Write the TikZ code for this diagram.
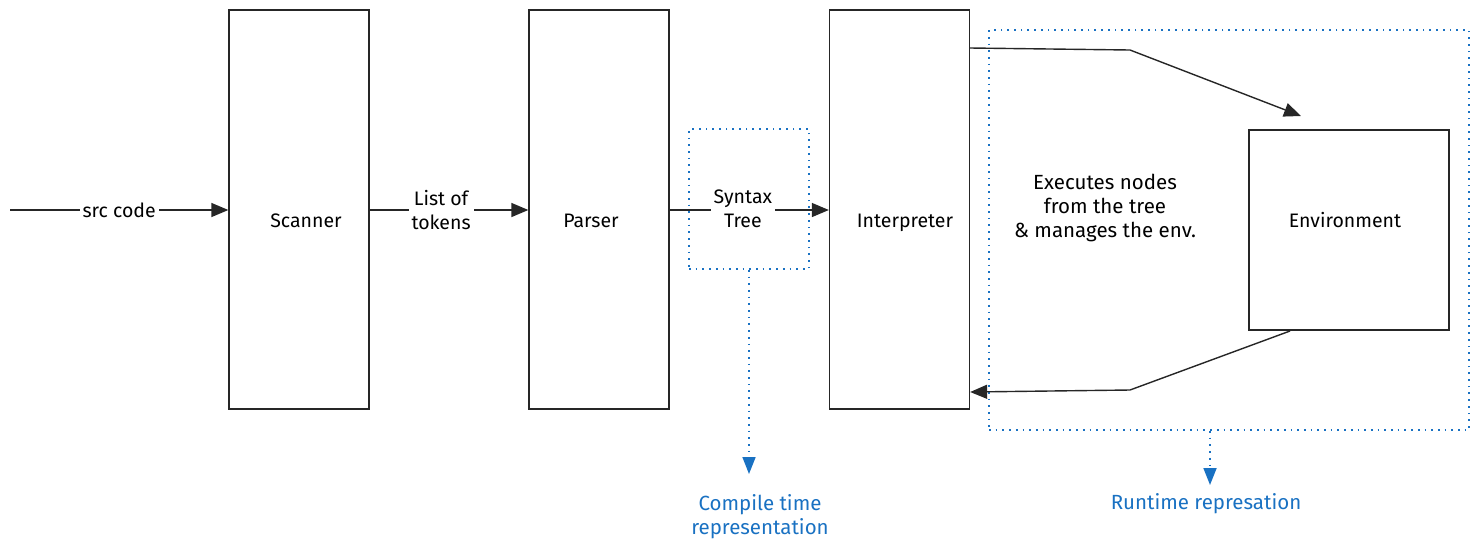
\documentclass[tikz,border=0pt]{standalone}
\usepackage{fontspec}
\setmainfont{Fira Sans}
\usetikzlibrary{arrows.meta}
\definecolor{exblue}{HTML}{1971C2}
\tikzset{
  stage/.style={draw=black!85, line width=1.3pt, minimum width=140pt, minimum height=399pt, inner sep=0pt},
  envbox/.style={draw=black!85, line width=1.3pt, minimum width=200pt, minimum height=200pt, inner sep=0pt},
  dotbox/.style={draw=exblue, line width=1.7pt, dash pattern=on 1.7pt off 5pt, inner sep=0pt},
  flow/.style={draw=black!85, line width=1.4pt, -{Triangle[length=17pt,width=14pt]}},
  stagetext/.style={inner sep=0pt, text height=14pt, text depth=4pt, font=\fontsize{19.5}{24}\selectfont},
  lbl/.style={fill=white, inner sep=3pt, align=center, font=\fontsize{19.5}{24}\selectfont},
  blueflow/.style={draw=exblue, line width=1.7pt, dash pattern=on 1.7pt off 5pt, -{Triangle[length=17pt,width=13pt]}},
  bluelbl/.style={text=exblue, align=center, font=\fontsize{20.5}{24}\selectfont},
  plain/.style={align=center, font=\fontsize{20.5}{24}\selectfont}
}
\begin{document}
\begin{tikzpicture}[x=1pt,y=-1pt]
\useasboundingbox (0,0) rectangle (1479,550);
% stages
\node[stage] (scan) at (299,209.5) {};
\node[stage] (pars) at (599,209.5) {};
\node[stage] (intp) at (899.5,209.5) {};
\node[envbox] (env) at (1349,230) {};
\node[stagetext] (scant) at (306,222) {Scanner};
\node[stagetext] (parst) at (591,222) {Parser};
\node[stagetext] (intpt) at (905,222) {Interpreter};
\node[stagetext] (envt) at (1345,222) {Environment};
% dotted regions
\node[dotbox, minimum width=120pt, minimum height=140pt] (ct) at (749,199) {};
\node[dotbox, minimum width=480pt, minimum height=400pt] (rt) at (1229,230) {};
% inputs
\coordinate (start) at (10,210);
\draw[flow] (start) -- (scan.west |- start) node[lbl, pos=0.5] {src code};
\draw[flow] (scan.east |- start) -- (pars.west |- start) node[lbl, pos=0.45] {List of\\tokens};
\draw[flow] (pars.east |- start) -- (intp.west |- start) node[lbl, pos=0.46, yshift=1pt] {Syntax\\Tree};
% runtime loop
\coordinate (a1) at (1130,50);
\coordinate (a2) at (1301,116);
\coordinate (b1) at (1290,331);
\coordinate (b2) at (1130,390);
\coordinate (b3) at (972,392);
\draw[flow] (intp.east |- 0,48) -- (a1) -- (a2);
\draw[flow] (b1) -- (b2) -- (intp.east |- b3);
\node[plain] (exec) at (1105,208) {Executes nodes\\from the tree\\\& manages the env.};
% annotations
\node[bluelbl] (ctl) at (760,517) {Compile time\\representation};
\node[bluelbl] (rtl) at (1206,504) {Runtime represation};
\coordinate (ctend) at (749,474);
\coordinate (rtstart) at (1210,431);
\coordinate (rtend) at (1210,485);
\draw[blueflow] (ct.south) -- (ctend);
\draw[blueflow] (rtstart) -- (rtend);
\end{tikzpicture}
\end{document}
